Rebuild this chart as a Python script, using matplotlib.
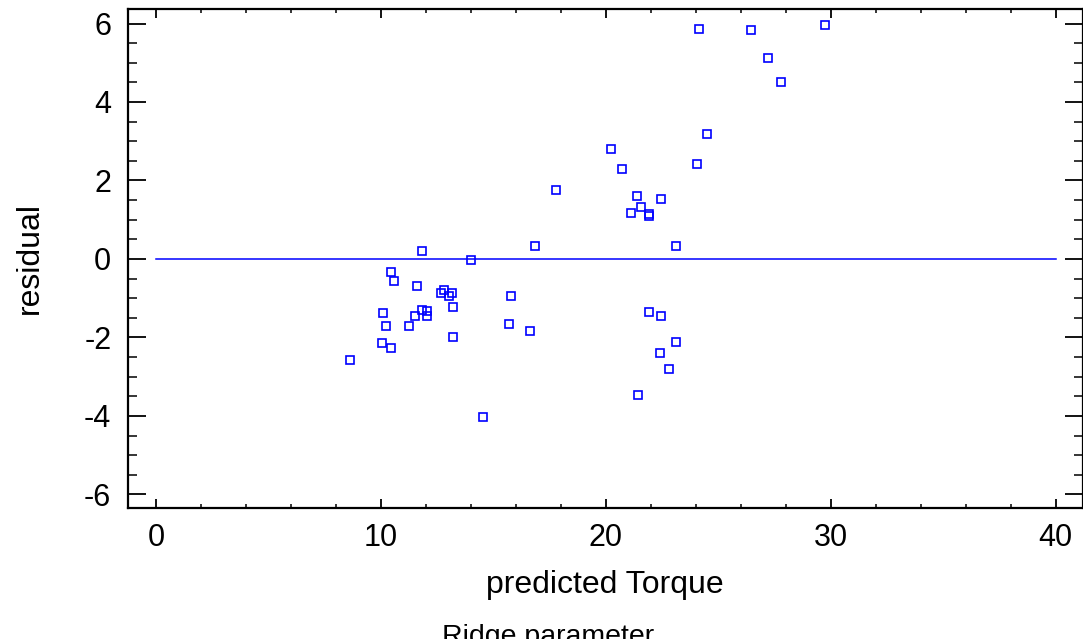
import matplotlib
matplotlib.use("Agg")
import matplotlib.pyplot as plt
from matplotlib.ticker import MultipleLocator

plt.rcParams['font.family'] = ['Liberation Sans', 'DejaVu Sans']
plt.rcParams['axes.unicode_minus'] = False

# predicted torque vs residual
predicted = [11.81, 14.03, 10.44, 10.59, 11.60, 12.67, 12.81, 13.02, 13.17, 13.21,
             10.12, 11.81, 12.07, 11.53, 12.07, 10.25, 11.26, 13.21, 15.78, 15.70,
             16.62, 10.04, 10.44, 8.64, 14.56,
             24.49, 20.24, 20.71, 24.07, 17.81, 21.38, 22.46, 21.59, 21.11, 21.93,
             21.93, 16.87, 23.14, 21.93, 22.46, 23.14, 22.40, 22.80, 21.45,
             24.15, 26.44, 29.75, 27.20, 27.79]
residual = [0.21, -0.03, -0.33, -0.56, -0.68, -0.88, -0.79, -0.95, -0.88, -1.22,
            -1.38, -1.29, -1.32, -1.45, -1.46, -1.72, -1.72, -1.99, -0.95, -1.65,
            -1.83, -2.15, -2.27, -2.58, -4.02,
            3.19, 2.81, 2.30, 2.42, 1.76, 1.61, 1.53, 1.33, 1.18, 1.14,
            1.10, 0.33, 0.33, -1.34, -1.45, -2.11, -2.39, -2.81, -3.46,
            5.87, 5.83, 5.95, 5.13, 4.51]

zero_line_x = [0, 40]
zero_line_y = [0, 0]

W, H = 1083, 639
fig = plt.figure(figsize=(W / 100, H / 100), dpi=100)
ax = fig.add_axes([128 / W, (H - 507.7) / H, (1082.5 - 128) / W, (507.7 - 9) / H])

ax.plot(zero_line_x, zero_line_y, color='#0000ff', lw=1.1)
ax.plot(predicted, residual, linestyle='none', marker='s', ms=5.5,
        mfc='none', mec='#0000ff', mew=1.2)

ax.set_xlim(-1.24, 41.2)
ax.set_ylim(-6.34, 6.37)
ax.xaxis.set_major_locator(MultipleLocator(10))
ax.xaxis.set_minor_locator(MultipleLocator(2))
ax.yaxis.set_major_locator(MultipleLocator(2))
ax.yaxis.set_minor_locator(MultipleLocator(0.5))

for s in ax.spines.values():
    s.set_linewidth(1.6)

ax.tick_params(axis='x', which='major', direction='in', length=6.5, width=1.3,
               top=True, labelsize=22, pad=11)
ax.tick_params(axis='x', which='minor', direction='in', length=3.2, width=1.1, top=True)
ax.tick_params(axis='y', which='major', direction='in', length=13, width=1.3,
               right=True, labelsize=22, pad=12)
ax.tick_params(axis='y', which='minor', direction='in', length=6.5, width=1.1, right=True)

ax.set_xlabel('predicted Torque', fontsize=23, labelpad=12)
ax.set_ylabel('residual', fontsize=23, labelpad=28)

# leftover title from another panel, cut off at the bottom edge
fig.text(548 / W, 1 - 644 / H, 'Ridge parameter', fontsize=20.5, ha='center', va='baseline')

fig.savefig('out.png', dpi=100)
